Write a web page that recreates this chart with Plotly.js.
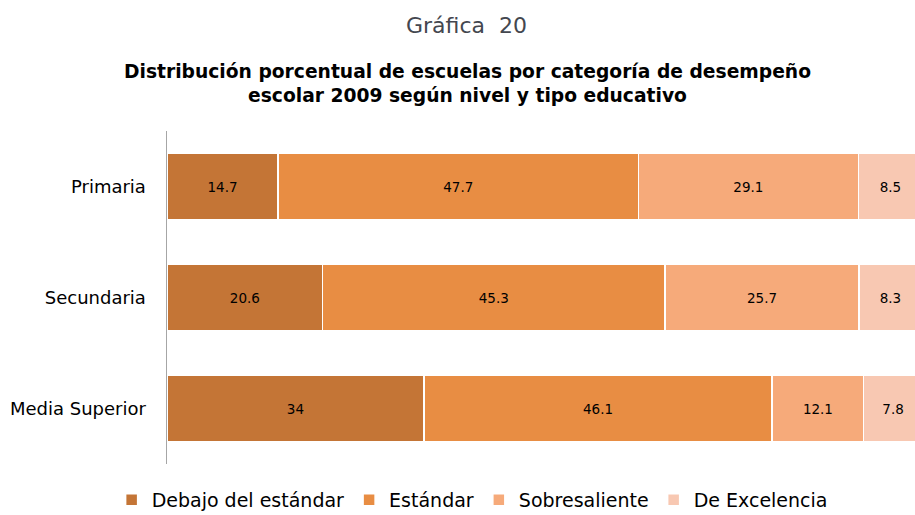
<!DOCTYPE html>
<html><head><meta charset="utf-8">
<script src="https://cdn.plot.ly/plotly-3.0.1.min.js"></script>
<style>html,body{margin:0;padding:0;background:#fff;}#chart{width:915px;height:515px;}</style>
</head><body><div id="chart"></div>
<script>
const categories = ["Primaria", "Secundaria", "Media Superior"];
const seriesNames = ["Debajo del estándar", "Estándar", "Sobresaliente", "De Excelencia"];
const debajo = [14.7, 20.6, 34];
const estandar = [47.7, 45.3, 46.1];
const sobresaliente = [29.1, 25.7, 12.1];
const excelencia = [8.5, 8.3, 7.8];
const colors = ["#C47536", "#E88D43", "#F6AA7A", "#F8C8B2"];
const values = [debajo, estandar, sobresaliente, excelencia];

const FONT = "'DejaVu Sans', sans-serif";
const traces = values.map((v, i) => ({
  type: "bar", orientation: "h", name: seriesNames[i],
  y: categories, x: v,
  text: v.map(String), textposition: "inside", insidetextanchor: "middle",
  textfont: {family: FONT, size: 13.5, color: "#000"},
  marker: {color: colors[i], line: {color: "#fff", width: 1.5}},
  hoverinfo: "x+name"
}));

// plot area: top 131px, bottom 464px (height 333)
const py = p => (464 - p) / 333;
const layout = {
  width: 915, height: 515,
  margin: {l: 167, r: 0, t: 131, b: 51},
  barmode: "stack", bargap: 0.4,
  paper_bgcolor: "#fff", plot_bgcolor: "#fff",
  font: {family: FONT, color: "#000"},
  xaxis: {range: [0, 99], showgrid: false, zeroline: false, showticklabels: false, showline: false, fixedrange: true},
  yaxis: {autorange: "reversed", showline: true, linecolor: "#A6A6A6", linewidth: 1.5, ticks: "", ticklabelstandoff: 16,
          tickfont: {family: FONT, size: 18, color: "#000"}, showgrid: false, zeroline: false},
  showlegend: true,
  legend: {orientation: "h", xref: "container", yref: "container", x: 0.516, xanchor: "center", y: 15/515, yanchor: "middle",
           font: {family: FONT, size: 19, color: "#000"}, traceorder: "normal"},
  annotations: [
    {text: "Gráfica  20", xref: "paper", yref: "paper", x: 0, xshift: 466 - 167, xanchor: "center", y: py(25), yanchor: "middle",
     showarrow: false, font: {family: FONT, size: 22, color: "#44474F"}},
    {text: "<b>Distribución porcentual de escuelas por categoría de desempeño<br>escolar 2009 según nivel y tipo educativo</b>",
     xref: "paper", yref: "paper", x: 0, xshift: 467 - 167, xanchor: "center", y: py(84), yanchor: "middle",
     showarrow: false, align: "center", font: {family: FONT, size: 18.7, color: "#000"}}
  ]
};
Plotly.newPlot("chart", traces, layout, {displayModeBar: false, staticPlot: true});
</script></body></html>
